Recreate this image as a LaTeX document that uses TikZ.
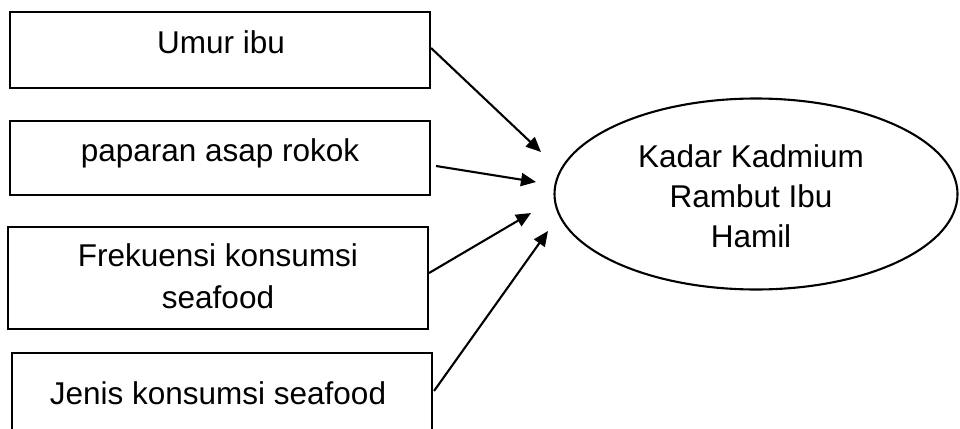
\documentclass[tikz,border=0pt]{standalone}
\usepackage{fontspec}
\setmainfont{Liberation Sans}
\usetikzlibrary{shapes.geometric,arrows.meta,calc}
\begin{document}
\begin{tikzpicture}[x=1pt,y=-1pt,
  box/.style={draw,line width=2.1pt,rectangle,inner sep=0pt,minimum width=420pt},
  lbl/.style={font=\fontsize{31.5}{40}\selectfont,inner sep=0pt,anchor=base},
  oval/.style={draw,line width=2.1pt,ellipse,inner sep=0pt,minimum width=403pt,minimum height=191pt},
  arr/.style={line width=2.1pt,-{Triangle[length=15pt,width=13pt]}}]
\clip (0,0) rectangle (960,428);
\fill[white] (0,0) rectangle (960,428);
% boxes
\node[box,minimum height=76pt] (b1) at (220,50) {};
\node[box,minimum height=74pt] (b2) at (220,158) {};
\node[box,minimum height=102pt] (b3) at (218,278) {};
\node[box,minimum height=100pt] (b4) at (222,403) {};
% labels
\node[lbl] (t1) at (221,54) {Umur ibu};
\node[lbl] (t2) at (220,161) {paparan asap rokok};
\node[lbl] (t3) at (218,266) {Frekuensi konsumsi};
\node[lbl] (t3b) at (218,308) {seafood};
\node[lbl] (t4) at (218,404) {Jenis konsumsi seafood};
% ellipse
\node[oval] (e) at (756,194) {};
\node[lbl] (k1) at (751,167) {Kadar Kadmium};
\node[lbl] (k2) at (751,207) {Rambut Ibu};
\node[lbl] (k3) at (751,247) {Hamil};
% arrow tips
\coordinate (p1) at (541,152);
\coordinate (p2) at (536,182);
\coordinate (p3) at (531,213);
\coordinate (p4) at (548,231);
\draw[arr] ($(b1.east)+(0,-2)$) -- (p1);
\draw[arr] ($(b2.east)+(5,8)$) -- (p2);
\draw[arr] ($(b3.east)+(0,-5)$) -- (p3);
\draw[arr] ($(b4.north east)+(1,39)$) -- (p4);
\end{tikzpicture}
\end{document}
